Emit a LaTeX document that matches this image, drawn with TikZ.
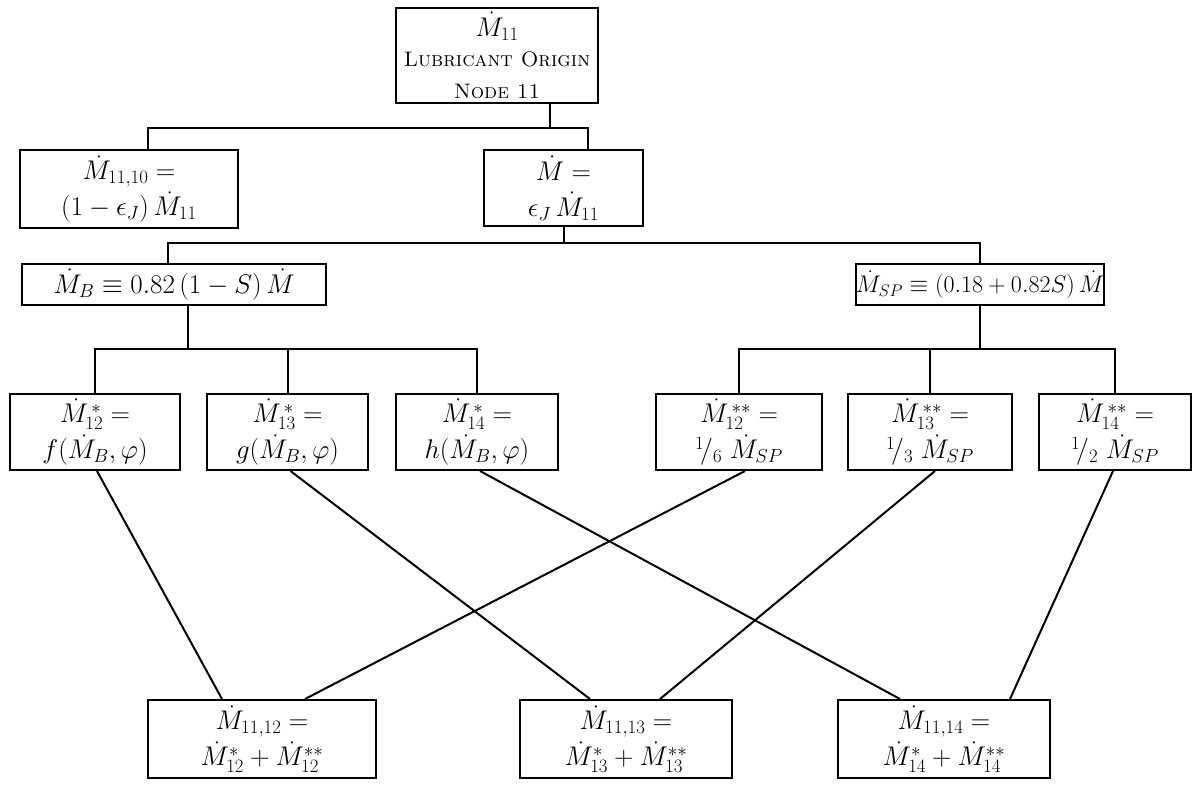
\RequirePackage{fix-cm}
\documentclass[tikz,border=0pt]{standalone}
\usepackage{amsmath}
\begin{document}
\tikzset{
  box/.style={draw, line width=2pt, align=center, inner sep=0pt,
    font=\fontsize{27}{36}\selectfont},
  link/.style={line width=2pt}
}
\begin{tikzpicture}[x=1pt,y=-1pt]
\useasboundingbox (0,0) rectangle (1198,795);
% level 1
\node[box, minimum width=202pt, minimum height=95pt] (top) at (497,55.5)
  {$\dot M_{11}$\\[-6pt] {\fontsize{21}{28}\selectfont\textsc{Lubricant Origin}}\\[-4pt] {\fontsize{21}{28}\selectfont\textsc{Node 11}}};
% level 2
\node[box, minimum width=218pt, minimum height=78pt] (l2a) at (129,189)
  {$\dot M_{11,10}=$\\ $(1-\epsilon_J)\,\dot M_{11}$};
\node[box, minimum width=159pt, minimum height=76pt] (l2b) at (563.5,188)
  {$\dot M=$\\ $\epsilon_J\,\dot M_{11}$};
% level 3
\node[box, minimum width=304pt, minimum height=41pt] (l3a) at (174,284.5)
  {$\dot M_B\equiv 0.82\,(1-S)\,\dot M$};
\node[box, minimum width=236pt, minimum height=41pt, font=\fontsize{24}{30}\selectfont] (l3b) at (980,284.5)
  {$\dot M_{SP}\equiv(0.18+0.82S)\,\dot M$};
% level 4
\node[box, minimum width=170pt, minimum height=76pt] (f) at (95,432)
  {$\dot M_{12}^{\,*}=$\\ $f(\dot M_B,\varphi)$};
\node[box, minimum width=161pt, minimum height=76pt] (g) at (287.5,432)
  {$\dot M_{13}^{\,*}=$\\ $g(\dot M_B,\varphi)$};
\node[box, minimum width=162pt, minimum height=76pt] (h) at (477,432)
  {$\dot M_{14}^{\,*}=$\\ $h(\dot M_B,\varphi)$};
\node[box, minimum width=166pt, minimum height=76pt] (s12) at (739,432)
  {$\dot M_{12}^{\,**}=$\\ ${}^1\!/_6\;\dot M_{SP}$};
\node[box, minimum width=164pt, minimum height=76pt] (s13) at (930,432)
  {$\dot M_{13}^{\,**}=$\\ ${}^1\!/_3\;\dot M_{SP}$};
\node[box, minimum width=152pt, minimum height=76pt] (s14) at (1115,432)
  {$\dot M_{14}^{\,**}=$\\ ${}^1\!/_2\;\dot M_{SP}$};
% level 5
\node[box, minimum width=228pt, minimum height=78pt] (r12) at (262,739)
  {$\dot M_{11,12}=$\\ $\dot M^{*}_{12}+\dot M^{**}_{12}$};
\node[box, minimum width=212pt, minimum height=78pt] (r13) at (626,739)
  {$\dot M_{11,13}=$\\ $\dot M^{*}_{13}+\dot M^{**}_{13}$};
\node[box, minimum width=212pt, minimum height=78pt] (r14) at (944,739)
  {$\dot M_{11,14}=$\\ $\dot M^{*}_{14}+\dot M^{**}_{14}$};
% buses
\coordinate (bA) at (0,128);
\coordinate (bB) at (0,243);
\coordinate (bC) at (0,349);
\draw[link] ([xshift=53pt]top.south) -- ([xshift=53pt]top.south |- bA);
\draw[link] ([xshift=19pt]l2a.north) -- ([xshift=19pt]l2a.north |- bA)
  -- ([xshift=24.5pt]l2b.north |- bA) -- ([xshift=24.5pt]l2b.north);
\draw[link] (l2b.south) -- (l2b.south |- bB);
\draw[link] ([xshift=-6pt]l3a.north) -- ([xshift=-6pt]l3a.north |- bB)
  -- (l3b.north |- bB) -- (l3b.north);
\draw[link] ([xshift=14pt]l3a.south) -- ([xshift=14pt]l3a.south |- bC);
\draw[link] (f.north) -- (f.north |- bC) -- (h.north |- bC) -- (h.north);
\draw[link] (g.north) -- (g.north |- bC);
\draw[link] (l3b.south) -- (l3b.south |- bC);
\draw[link] (s12.north) -- (s12.north |- bC) -- (s14.north |- bC) -- (s14.north);
\draw[link] (s13.north) -- (s13.north |- bC);
% crossing connectors
\draw[link] ([xshift=2pt]f.south) -- ([xshift=-40pt]r12.north);
\draw[link] ([xshift=6pt]s12.south) -- ([xshift=43pt]r12.north);
\draw[link] ([xshift=3pt]g.south) -- ([xshift=-36pt]r13.north);
\draw[link] ([xshift=5pt]s13.south) -- ([xshift=34pt]r13.north);
\draw[link] ([xshift=3pt]h.south) -- ([xshift=-44pt]r14.north);
\draw[link] ([xshift=-2pt]s14.south) -- ([xshift=66pt]r14.north);
\end{tikzpicture}
\end{document}
